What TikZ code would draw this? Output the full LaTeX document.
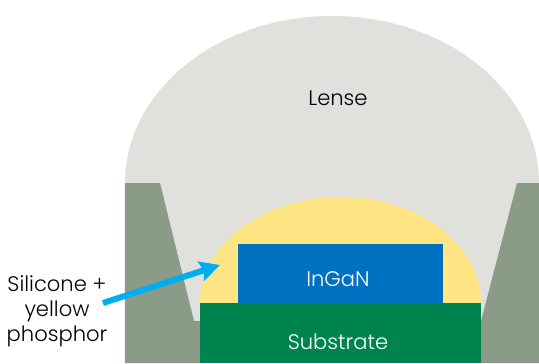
\documentclass[tikz,border=0pt]{standalone}
\usepackage{fontspec}
\setmainfont{Poppins Light}
\usetikzlibrary{arrows.meta}

\definecolor{lensegray}{HTML}{E0E1DC}
\definecolor{housing}{HTML}{8A9B88}
\definecolor{phosphor}{HTML}{FFE583}
\definecolor{chipblue}{HTML}{0070C0}
\definecolor{subgreen}{HTML}{00844F}
\definecolor{arrowcyan}{HTML}{00AEEF}

\begin{document}
\begin{tikzpicture}[x=0.02cm,y=-0.02cm]

\useasboundingbox (0,0) rectangle (539,363);

% Define corners
\coordinate (LT) at (125,183);
\coordinate (RT) at (539,183);
\coordinate (LB) at (194,321);
\coordinate (RB) at (481,321);
\coordinate (arrowtail) at (103,303);
\coordinate (arrowtip) at (220,265);

% Draw lense
\fill[lensegray] (LT) arc[start angle=180, end angle=0, x radius=207, y radius=-167] -- (RB) -- (LB) -- cycle;

% Draw housing
\fill[housing] (LT) -- (160,183) -- (LB) -- (200,321) -- (200,363) -- (125,363) -- cycle;
\fill[housing] (RT) -- (517,183) -- (RB) -- (481,363) -- (539,363) -- cycle;

% Phosphor dome
\fill[phosphor] (200,303) arc[start angle=180, end angle=0, x radius=140.5, y radius=-106] -- cycle;

% Chip and substrate
\fill[chipblue] (238,244) rectangle (443,303);
\fill[subgreen] (200,303) rectangle (481,363);

% Labels
\node[font=\fontsize{12}{15}\selectfont] (lense) at (338,98) {Lense};
\node[font=\fontsize{12}{15}\selectfont, text=white] (ingan) at (338,279) {InGaN};
\node[font=\fontsize{12}{15}\selectfont, text=white] (substrate) at (338,342) {Substrate};
\node[font=\fontsize{12}{14.2}\selectfont, align=center] (silicone) at (57,311.5) {Silicone +\\yellow\\phosphor};

% Arrow to phosphor
\draw[-{Stealth[length=20*0.02cm,width=20*0.02cm,inset=3*0.02cm]}, arrowcyan, line width=6*0.02cm] (arrowtail) -- (arrowtip);

\end{tikzpicture}
\end{document}
